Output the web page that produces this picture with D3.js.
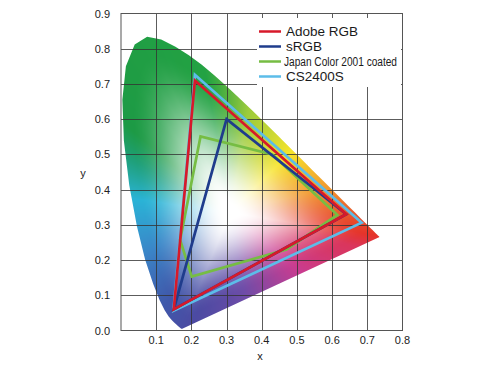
<!DOCTYPE html>
<html><head><meta charset="utf-8">
<script src="https://cdn.jsdelivr.net/npm/d3@7"></script>
<style>html,body{margin:0;padding:0;background:#fff;}svg{display:block;font-family:"Liberation Sans",Arial,Helvetica,sans-serif;}</style>
</head><body>
<svg id="chart" width="490" height="368"></svg>
<script>
// ---- data ----
const wavelengths = [380,385,390,395,400,405,410,415,420,425,430,435,440,445,450,455,460,465,470,475,480,485,490,495,500,505,510,515,520,525,530,535,540,545,550,555,560,565,570,575,580,585,590,595,600,605,610,615,620,625,630,635,640,645,650,655,660,665,670,680,690,700];
const locusX = [0.1741,0.1740,0.1738,0.1736,0.1733,0.1730,0.1726,0.1721,0.1714,0.1703,0.1689,0.1669,0.1644,0.1611,0.1566,0.1510,0.1440,0.1355,0.1241,0.1096,0.0913,0.0687,0.0454,0.0235,0.0082,0.0039,0.0139,0.0389,0.0743,0.1142,0.1547,0.1929,0.2296,0.2658,0.3016,0.3373,0.3731,0.4087,0.4441,0.4788,0.5125,0.5448,0.5752,0.6029,0.6270,0.6482,0.6658,0.6801,0.6915,0.7006,0.7079,0.7140,0.7190,0.7230,0.7260,0.7283,0.7300,0.7311,0.7320,0.7334,0.7344,0.7347];
const locusY = [0.0050,0.0050,0.0049,0.0049,0.0048,0.0048,0.0048,0.0048,0.0051,0.0058,0.0069,0.0086,0.0109,0.0138,0.0177,0.0227,0.0297,0.0399,0.0578,0.0868,0.1327,0.2007,0.2950,0.4127,0.5384,0.6548,0.7502,0.8120,0.8338,0.8262,0.8059,0.7816,0.7543,0.7243,0.6923,0.6589,0.6245,0.5896,0.5547,0.5202,0.4866,0.4544,0.4242,0.3965,0.3725,0.3514,0.3340,0.3197,0.3083,0.2993,0.2920,0.2859,0.2809,0.2770,0.2740,0.2717,0.2700,0.2689,0.2680,0.2666,0.2656,0.2653];

const seriesNames = ["Adobe RGB","sRGB","Japan Color 2001 coated","CS2400S"];
const adobeX = [0.64,0.21,0.15];   const adobeY = [0.33,0.71,0.06];
const srgbX  = [0.64,0.30,0.15];   const srgbY  = [0.33,0.60,0.06];
const japanX = [0.615,0.43,0.226,0.168,0.201,0.47]; const japanY = [0.328,0.50,0.551,0.257,0.153,0.23];
const csX    = [0.684,0.21,0.149]; const csY    = [0.306,0.726,0.056];

const xTicks = [0.1,0.2,0.3,0.4,0.5,0.6,0.7,0.8];
const yTicks = [0.0,0.1,0.2,0.3,0.4,0.5,0.6,0.7,0.8,0.9];
const xTickLabels = ["0.1","0.2","0.3","0.4","0.5","0.6","0.7","0.8"];
const yTickLabels = ["0.0","0.1","0.2","0.3","0.4","0.5","0.6","0.7","0.8","0.9"];

// hue ramp around white point (angle in degrees -> colour)
const hueAngles = [-9, 14, 45, 80, 100, 140, 152, 172, 205, 235, 252, 280, 320, 345, 351];
const hueColors = ["#e5332a","#f19a30","#f6e42c","#9ccb3c","#23a243","#1d9a45","#1fa07a","#2ab3d6","#3a86c8","#4058aa","#4c4aa2","#6e4ca8","#c93c90","#da365c","#e5332a"];

// ---- chart ----
const svg = d3.select("#chart");
const x = d3.scaleLinear().domain([0,0.8]).range([121,402.5]);
const y = d3.scaleLinear().domain([0,0.9]).range([330.5,13.5]);

const locus = locusX.map((v,i)=>[v, locusY[i]]);

// colour fill of chromaticity diagram
const white = [0.31, 0.335];
const hueScale = d3.scaleLinear().domain(hueAngles).range(hueColors).interpolate(d3.interpolateRgb);
const NB = 3600;
const hueLUT = [], distLUT = [];
const closed = locus.concat([locus[0]]);
for (let k=0;k<NB;k++){
  const deg = -9 + 360*k/NB;
  const c = d3.rgb(hueScale(deg)); hueLUT.push([c.r,c.g,c.b]);
  const a = deg*Math.PI/180, dx=Math.cos(a), dy=Math.sin(a);
  let best = Infinity;
  for (let i=0;i<closed.length-1;i++){
    const P=closed[i], Q=closed[i+1];
    const ex=Q[0]-P[0], ey=Q[1]-P[1];
    const den = dx*ey - dy*ex; if (Math.abs(den)<1e-12) continue;
    const wx=P[0]-white[0], wy=P[1]-white[1];
    const r=(wx*ey-wy*ex)/den, u=(wx*dy-wy*dx)/den;
    if (r>0 && u>=-1e-9 && u<=1+1e-9) best=Math.min(best,r);
  }
  distLUT.push(best);
}
const px0 = 121, py0 = 13, W = 283, H = 319;
const canvas = document.createElement("canvas");
canvas.width = W; canvas.height = H;
const ctx = canvas.getContext("2d");
const img = ctx.createImageData(W,H);
for (let j=0;j<H;j++){
  for (let i=0;i<W;i++){
    const dxv = x.invert(px0+i+0.5)-white[0], dyv = y.invert(py0+j+0.5)-white[1];
    let deg = Math.atan2(dyv,dxv)*180/Math.PI;
    while (deg < -9) deg += 360; while (deg >= 351) deg -= 360;
    const k = Math.min(NB-1, Math.max(0, Math.round((deg+9)/360*NB)));
    const s = Math.min(1, Math.hypot(dxv,dyv)/distLUT[k]);
    const u = Math.min(1, Math.max(0,(s-0.07)/0.83));
    const t = u*u*(3-2*u)*0.85 + 0.15*u;
    const hc = hueLUT[k];
    const o = (j*W+i)*4;
    img.data[o]   = 255*(1-t)+hc[0]*t;
    img.data[o+1] = 255*(1-t)+hc[1]*t;
    img.data[o+2] = 255*(1-t)+hc[2]*t;
    img.data[o+3] = 255;
  }
}
ctx.putImageData(img,0,0);

const lineGen = d3.line().x(d=>x(d[0])).y(d=>y(d[1]));
svg.append("clipPath").attr("id","locusClip").append("path").attr("d", lineGen(locus)+"Z");
svg.append("image").attr("x",px0).attr("y",py0).attr("width",W).attr("height",H)
  .attr("href", canvas.toDataURL()).attr("clip-path","url(#locusClip)");

// grid
const grid = svg.append("g").attr("stroke","#333").attr("stroke-opacity",0.8).attr("stroke-width",1);
grid.selectAll(".gx").data(xTicks.slice(0,-1)).join("line")
  .attr("x1",d=>Math.round(x(d))+0.5).attr("x2",d=>Math.round(x(d))+0.5).attr("y1",y(0.9)).attr("y2",y(0));
grid.selectAll(".gy").data(yTicks.slice(1,-1)).join("line")
  .attr("y1",d=>Math.round(y(d))+0.5).attr("y2",d=>Math.round(y(d))+0.5).attr("x1",x(0)).attr("x2",x(0.8));

// gamut outlines
const gamuts = [
  {xs:csX, ys:csY, color:"#5cbde9"},
  {xs:japanX, ys:japanY, color:"#76bd43"},
  {xs:srgbX, ys:srgbY, color:"#1f3c8c"},
  {xs:adobeX, ys:adobeY, color:"#d7192a"}
];
gamuts.forEach(g=>{
  const pts = g.xs.map((v,i)=>[v,g.ys[i]]);
  svg.append("path").attr("d", lineGen(pts)+"Z").attr("fill","none")
    .attr("stroke",g.color).attr("stroke-width",2.7).attr("stroke-linejoin","miter");
});

// legend
svg.append("rect").attr("x",257).attr("y",18).attr("width",144).attr("height",69).attr("fill","#fff");
const legColors = ["#d7192a","#1f3c8c","#76bd43","#5cbde9"];
const leg = svg.append("g");
seriesNames.forEach((n,i)=>{
  const cy = 31.5 + i*15;
  leg.append("line").attr("x1",259).attr("x2",281).attr("y1",cy).attr("y2",cy)
    .attr("stroke",legColors[i]).attr("stroke-width",2.5);
  const t = leg.append("text").attr("x", i===2?284:286).attr("y",cy+4.5).attr("fill","#1a1a1a")
    .attr("font-size", i===2?12:13.5).text(n);
  if (i===2) t.attr("textLength",113).attr("lengthAdjust","spacingAndGlyphs");
});

// frame
svg.append("rect").attr("x",x(0)).attr("y",y(0.9)).attr("width",x(0.8)-x(0)).attr("height",y(0)-y(0.9))
  .attr("fill","none").attr("stroke","#555").attr("stroke-width",1);

// tick labels
svg.append("g").selectAll("text").data(xTicks).join("text")
  .attr("x",d=>x(d)).attr("y",344).attr("text-anchor","middle").attr("font-size",11).attr("fill","#222")
  .text((d,i)=>xTickLabels[i]);
svg.append("g").selectAll("text").data(yTicks).join("text")
  .attr("x",110).attr("y",d=>y(d)+4).attr("text-anchor","end").attr("font-size",11).attr("fill","#222")
  .text((d,i)=>yTickLabels[i]);
svg.append("text").attr("x",260).attr("y",360).attr("text-anchor","middle").attr("font-size",11).attr("fill","#222").text("x");
svg.append("text").attr("x",83).attr("y",177).attr("text-anchor","middle").attr("font-size",11).attr("fill","#222").text("y");
</script>
</body></html>
